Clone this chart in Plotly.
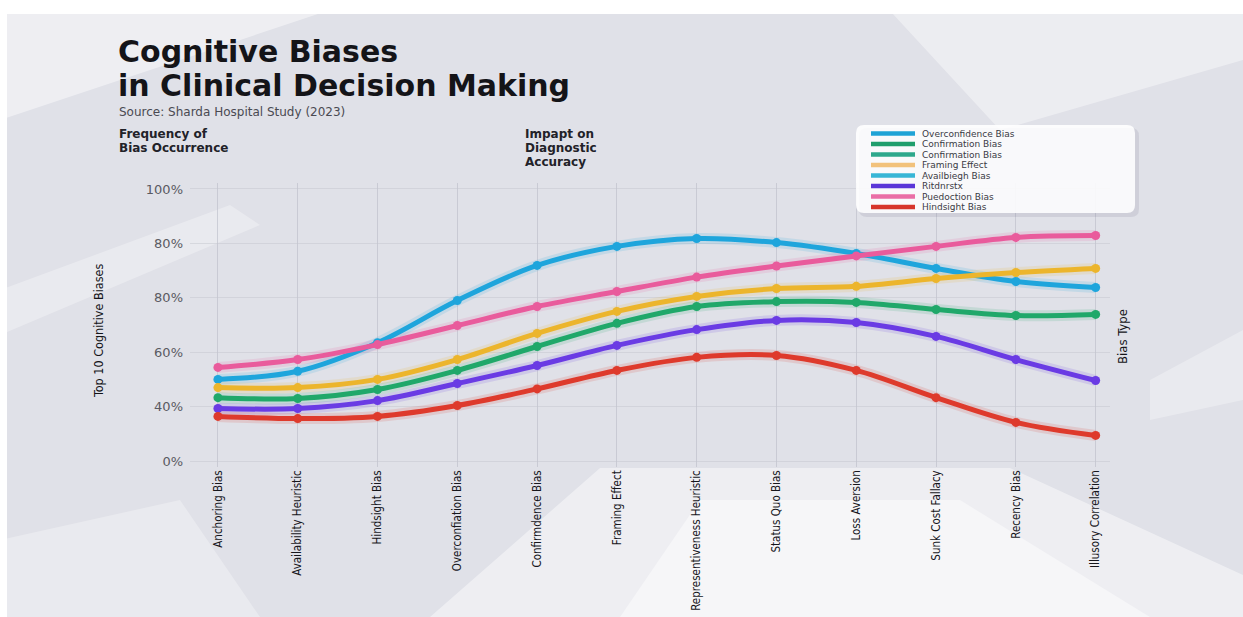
import plotly.graph_objects as go

# ---------------- data ----------------
categories = ["Anchoring Bias", "Availability Heuristic", "Hindsight Bias", "Overconfiation Bias",
              "Confirmdence Bias", "Framing Effect", "Representiveness Heuristic", "Status Quo Bias",
              "Loss Aversion", "Sunk Cost Fallacy", "Recency Bias", "Illusory Correlation"]

overconfidence = [30.0, 33.0, 43.5, 59.0, 71.9, 78.9, 81.8, 80.3, 76.3, 70.8, 66.0, 63.8]
puedoction     = [34.4, 37.3, 42.8, 49.8, 56.8, 62.3, 67.6, 71.7, 75.4, 78.9, 82.2, 82.9]
framing        = [27.0, 27.0, 30.0, 37.3, 46.9, 55.0, 60.5, 63.4, 64.2, 67.1, 69.3, 70.8]
confirmation   = [23.3, 23.0, 26.3, 33.3, 42.1, 50.6, 56.8, 58.6, 58.3, 55.7, 53.5, 53.9]
ritdnrstx      = [19.3, 19.3, 22.2, 28.5, 35.1, 42.5, 48.3, 51.7, 50.9, 45.8, 37.3, 29.6]
hindsight      = [16.4, 15.6, 16.4, 20.4, 26.5, 33.3, 38.1, 38.8, 33.3, 23.3, 14.2, 9.4]

series_names  = ["Overconfidence Bias", "Puedoction Bias", "Framing Effect",
                 "Confirmation Bias", "Ritdnrstx", "Hindsight Bias"]
series_values = [overconfidence, puedoction, framing, confirmation, ritdnrstx, hindsight]
series_colors = ["#1ea5dc", "#e95b9c", "#ecb52c", "#20a86a", "#6a3be4", "#de3a2c"]

legend_names  = ["Overconfidence Bias", "Confirmation Bias", "Confirmation Bias", "Framing Effect",
                 "Availbiegh Bias", "Ritdnrstx", "Puedoction Bias", "Hindsight Bias"]
legend_colors = ["#1fa3d6", "#1f9e6c", "#2ea88c", "#f2c27c", "#38b6d6", "#5a36d8", "#ea6ea6", "#d6352b"]

tick_vals = [0, 20, 40, 60, 80, 100]
tick_text = ["0%", "40%", "60%", "80%", "80%", "100%"]

# ---------------- layout geometry ----------------
WIDTH, HEIGHT = 1243, 617
L, R, T, B = 190, 133, 183, 150
PW, PH = WIDTH - L - R, HEIGHT - T - B


def px(x):
    return (x - L) / PW


def py(y):
    return 1 - (y - T) / PH


def poly(points):
    return "M " + " L ".join(f"{px(x):.4f},{py(y):.4f}" for x, y in points) + " Z"


WIDE = "DejaVu Sans, Verdana, sans-serif"
NARROW = "Liberation Sans Narrow, DejaVu Sans Condensed, Roboto Condensed, Arial Narrow, sans-serif"

fig = go.Figure()

# soft glow under each line
for name, vals, col in zip(series_names, series_values, series_colors):
    fig.add_trace(go.Scatter(x=categories, y=vals, mode="lines",
                             line=dict(color=col, width=11, shape="spline"),
                             opacity=0.14, hoverinfo="skip", showlegend=False))
for name, vals, col in zip(series_names, series_values, series_colors):
    fig.add_trace(go.Scatter(x=categories, y=vals, mode="lines+markers", name=name,
                             line=dict(color=col, width=5, shape="spline"),
                             marker=dict(size=9, color=col), showlegend=False))

shapes = []
# background light streaks
streaks = [
    ([(0, 0), (360, 0), (0, 120)], 0.45),
    ([(0, 290), (230, 205), (260, 225), (0, 335)], 0.3),
    ([(430, 617), (600, 468), (1010, 468), (1243, 575), (1243, 617)], 0.45),
    ([(620, 617), (700, 500), (960, 500), (1150, 617)], 0.45),
    ([(880, 0), (1243, 0), (1243, 60), (1000, 130)], 0.4),
    ([(1243, 330), (1150, 380), (1150, 420), (1243, 400)], 0.3),
    ([(0, 540), (180, 500), (260, 617), (0, 617)], 0.3),
]
for pts, op in streaks:
    shapes.append(dict(type="path", xref="paper", yref="paper", path=poly(pts),
                       fillcolor="white", opacity=op, line=dict(width=0), layer="below"))
# white border strips
shapes.append(dict(type="rect", xref="paper", yref="paper", x0=px(0), x1=px(WIDTH), y0=py(14), y1=py(0),
                   fillcolor="white", line=dict(width=0), layer="below"))
shapes.append(dict(type="rect", xref="paper", yref="paper", x0=px(0), x1=px(7), y0=py(HEIGHT), y1=py(0),
                   fillcolor="white", line=dict(width=0), layer="below"))


# legend box (rounded) with shadow
def rounded(x0, y0, x1, y1, r):
    return (f"M {px(x0 + r):.4f},{py(y0):.4f} L {px(x1 - r):.4f},{py(y0):.4f} "
            f"Q {px(x1):.4f},{py(y0):.4f} {px(x1):.4f},{py(y0 + r):.4f} "
            f"L {px(x1):.4f},{py(y1 - r):.4f} Q {px(x1):.4f},{py(y1):.4f} {px(x1 - r):.4f},{py(y1):.4f} "
            f"L {px(x0 + r):.4f},{py(y1):.4f} Q {px(x0):.4f},{py(y1):.4f} {px(x0):.4f},{py(y1 - r):.4f} "
            f"L {px(x0):.4f},{py(y0 + r):.4f} Q {px(x0):.4f},{py(y0):.4f} {px(x0 + r):.4f},{py(y0):.4f} Z")


shapes.append(dict(type="path", xref="paper", yref="paper", path=rounded(859, 128, 1139, 217, 8),
                   fillcolor="rgba(120,120,140,0.16)", line=dict(width=0), layer="above"))
shapes.append(dict(type="path", xref="paper", yref="paper", path=rounded(856, 125, 1135, 213, 8),
                   fillcolor="rgba(255,255,255,0.88)", line=dict(width=0), layer="above"))

annotations = []
leg_y0, leg_dy = 133.5, 10.5
for i, (nm, col) in enumerate(zip(legend_names, legend_colors)):
    yc = leg_y0 + i * leg_dy
    shapes.append(dict(type="line", xref="paper", yref="paper", x0=px(871), x1=px(915),
                       y0=py(yc), y1=py(yc), line=dict(color=col, width=4.5), layer="above"))
    annotations.append(dict(xref="paper", yref="paper", x=px(920), y=py(yc), xanchor="left",
                            yanchor="middle", text=nm, showarrow=False,
                            font=dict(family=WIDE, size=9, color="#3a3a44")))

# title and headers
annotations += [
    dict(xref="paper", yref="paper", x=px(116), y=py(51), xanchor="left", yanchor="middle",
         text="Cognitive Biases", showarrow=False,
         font=dict(family=WIDE, size=30, color="#141418", weight="bold")),
    dict(xref="paper", yref="paper", x=px(116), y=py(86), xanchor="left", yanchor="middle",
         text="in Clinical Decision Making", showarrow=False,
         font=dict(family=WIDE, size=30, color="#141418", weight="bold")),
    dict(xref="paper", yref="paper", x=px(117), y=py(112), xanchor="left", yanchor="middle",
         text="Source: Sharda Hospital Study (2023)", showarrow=False,
         font=dict(family=WIDE, size=12, color="#4a4a52")),
]
for i, line in enumerate(["Frequency of", "Bias Occurrence"]):
    annotations.append(dict(xref="paper", yref="paper", x=px(117), y=py(134 + i * 14),
                            xanchor="left", yanchor="middle", text=line, showarrow=False,
                            font=dict(family=WIDE, size=12, color="#222228", weight="bold")))
for i, line in enumerate(["Impapt on", "Diagnostic", "Accuracy"]):
    annotations.append(dict(xref="paper", yref="paper", x=px(523), y=py(134 + i * 14),
                            xanchor="left", yanchor="middle", text=line, showarrow=False,
                            font=dict(family=WIDE, size=12, color="#222228", weight="bold")))

# axis titles
annotations.append(dict(xref="paper", yref="paper", x=px(98), y=py(331), xanchor="center",
                        yanchor="middle", text="Top 10 Cognitive Biases", textangle=-90,
                        showarrow=False, font=dict(family=NARROW, size=12.5, color="#141418")))
annotations.append(dict(xref="paper", yref="paper", x=px(1122), y=py(337), xanchor="center",
                        yanchor="middle", text="Bias Type", textangle=-90,
                        showarrow=False, font=dict(family=NARROW, size=13, color="#141418")))

fig.update_layout(
    width=WIDTH, height=HEIGHT,
    margin=dict(l=L, r=R, t=T, b=B, autoexpand=False),
    paper_bgcolor="#e0e1e8",
    plot_bgcolor="rgba(0,0,0,0)",
    shapes=shapes,
    annotations=annotations,
    showlegend=False,
    xaxis=dict(type="category", range=[-0.35, 11.18], showgrid=True, automargin=False,
               gridcolor="rgba(185,187,198,0.6)", gridwidth=1, zeroline=False, showline=False,
               tickangle=-90, ticks="", tickfont=dict(family=NARROW, size=11.5, color="#16161c")),
    yaxis=dict(range=[-2.2, 102.2], tickvals=tick_vals, ticktext=tick_text, showgrid=True,
               automargin=False,
               gridcolor="rgba(195,197,206,0.5)", zeroline=False, showline=False, ticks="",
               ticklabelstandoff=6, tickfont=dict(family=WIDE, size=13, color="#5a5a62")),
)

fig.write_html("out.html")
